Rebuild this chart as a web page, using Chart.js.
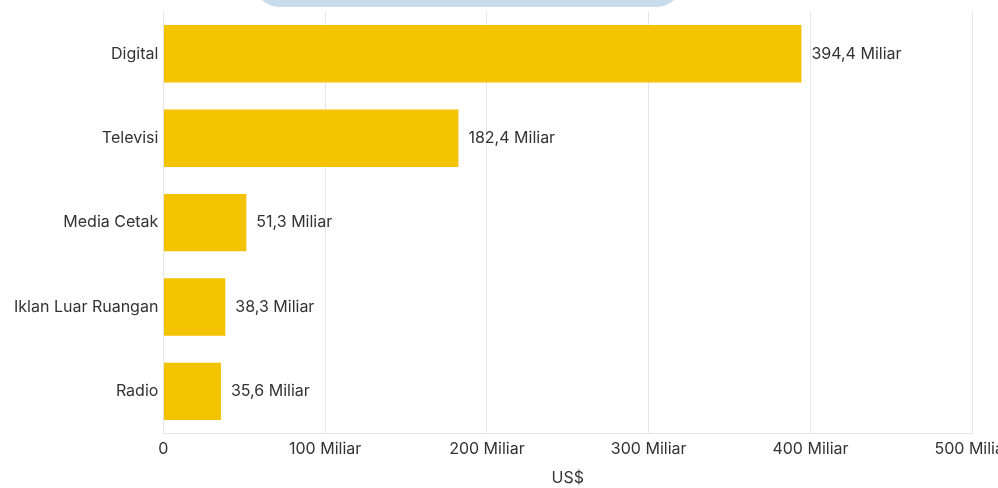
<!DOCTYPE html>
<html>
<head>
<meta charset="utf-8">
<script src="https://cdn.jsdelivr.net/npm/chart.js@4.4.0/dist/chart.umd.min.js"></script>
<style>
  html, body { margin: 0; padding: 0; background: #fff; overflow: hidden; }
  #wrap { position: relative; width: 1016px; height: 491px; margin-top: -3px; }
  #blob {
    position: absolute; left: 253px; top: -17px; width: 430px; height: 27px;
    background: #c9dcee; border-radius: 0 0 40px 40px; z-index: 2;
  }
</style>
</head>
<body>
<div id="wrap">
  <div id="blob"></div>
  <canvas id="adChart"></canvas>
</div>
<script>
// belanja iklan per media, dalam miliar US$
var categories = ["Digital", "Televisi", "Media Cetak", "Iklan Luar Ruangan", "Radio"];
var spend = [394.4, 182.4, 51.3, 38.3, 35.6];
var xTicks = [0, 100, 200, 300, 400, 500];

Chart.defaults.font.family = "Inter";
Chart.defaults.font.size = 16;
Chart.defaults.color = "#333";

function fmt(v) {
  return v.toFixed(1).replace(".", ",") + " Miliar";
}

const valueLabels = {
  id: "valueLabels",
  afterDatasetsDraw(chart) {
    let ctx = chart.ctx;
    let meta = chart.getDatasetMeta(0);
    ctx.save();
    ctx.font = "16px Inter";
    ctx.fillStyle = "#333";
    ctx.textAlign = "left";
    ctx.textBaseline = "middle";
    meta.data.forEach(function (bar, i) {
      ctx.fillText(fmt(spend[i]), bar.x + 10, bar.y);
    });
    ctx.restore();
  }
};

new Chart(document.getElementById("adChart"), {
  type: "bar",
  data: {
    labels: categories,
    datasets: [{
      data: spend,
      backgroundColor: "#f3c300",
      barPercentage: 0.85,
      categoryPercentage: 0.8
    }]
  },
  options: {
    indexAxis: "y",
    responsive: true,
    maintainAspectRatio: false,
    animation: false,
    layout: { padding: { top: 0, left: 9, right: 0, bottom: 0 } },
    plugins: { legend: { display: false }, tooltip: { enabled: false } },
    scales: {
      x: {
        min: 0,
        max: 500,
        afterBuildTicks: function (axis) {
          axis.ticks = xTicks.map(function (v) { return { value: v }; });
        },
        grid: { color: "#e6e6e6", drawTicks: false },
        border: { color: "#e6e6e6" },
        ticks: {
          padding: 6,
          maxRotation: 0,
          callback: function (v) { return v === 0 ? "0" : v + " Miliar"; }
        },
        title: { display: true, text: "US$", padding: { top: 4, bottom: 0 } }
      },
      y: {
        grid: { display: false, drawTicks: false },
        border: { color: "#e6e6e6" },
        ticks: { padding: 5 }
      }
    }
  },
  plugins: [valueLabels]
});
</script>
</body>
</html>
